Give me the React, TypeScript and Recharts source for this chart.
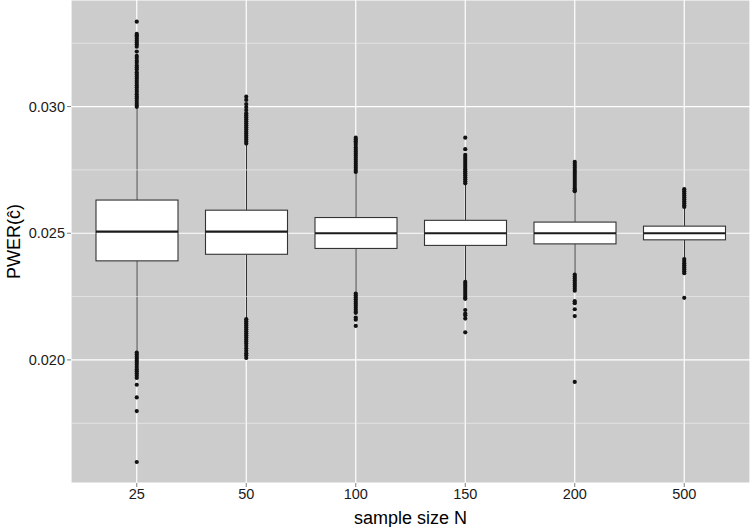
import React from "react";
import {
  ComposedChart,
  Bar,
  Scatter,
  XAxis,
  YAxis,
  CartesianGrid,
  ReferenceLine,
} from "recharts";

// Sample sizes on the x axis
const sampleSizes = ["25", "50", "100", "150", "200", "500"];

// Five-number summaries of PWER(ĉ) per sample size
const lowerWhisker = [0.02032, 0.02164, 0.02266, 0.02311, 0.02341, 0.02402];
const lowerQuartile = [0.02391, 0.02417, 0.0244, 0.02452, 0.02458, 0.02474];
const medians = [0.02506, 0.02506, 0.025, 0.025, 0.025, 0.025];
const upperQuartile = [0.02631, 0.02591, 0.02562, 0.02551, 0.02544, 0.02528];
const upperWhisker = [0.02996, 0.0285, 0.02736, 0.02692, 0.02662, 0.026];

// Outlying simulation results per sample size
const outliers25 = [
  0.03335, 0.03287, 0.03281, 0.03276, 0.03268, 0.0326, 0.03252, 0.03245, 0.03236,
  0.03217, 0.032, 0.03192, 0.03181, 0.03173, 0.03162, 0.03154, 0.03146, 0.03135,
  0.03127, 0.03118, 0.0311, 0.03101, 0.03093, 0.03084, 0.03075, 0.03066, 0.03058,
  0.03049, 0.0304, 0.03032, 0.03023, 0.03014, 0.03006, 0.02999,
  0.02029, 0.02021, 0.02013, 0.02005, 0.01997, 0.01989, 0.01981, 0.01972, 0.01963,
  0.01955, 0.01946, 0.01938, 0.01929, 0.01902, 0.01852, 0.01798, 0.01597,
];
const outliers50 = [
  0.03039, 0.03026, 0.0301, 0.02998, 0.02986, 0.02974, 0.02966, 0.02958, 0.0295,
  0.02942, 0.02934, 0.02926, 0.02918, 0.0291, 0.02902, 0.02894, 0.02886, 0.02878,
  0.0287, 0.02862, 0.02854,
  0.02161, 0.02153, 0.02145, 0.02137, 0.02129, 0.02121, 0.02113, 0.02105, 0.02097,
  0.02089, 0.02081, 0.02073, 0.02065, 0.02056, 0.02046, 0.02036, 0.02026, 0.02018,
  0.02008,
];
const outliers100 = [
  0.02877, 0.0287, 0.02863, 0.02856, 0.02848, 0.02838, 0.0283, 0.02822, 0.02814,
  0.02806, 0.02798, 0.0279, 0.02782, 0.02774, 0.02766, 0.02758, 0.0275, 0.02742,
  0.02262, 0.02254, 0.02246, 0.02238, 0.0223, 0.02222, 0.02214, 0.02206, 0.02198,
  0.0219, 0.02186, 0.02167, 0.02159, 0.02134,
];
const outliers150 = [
  0.02877, 0.02832, 0.02809, 0.02801, 0.02793, 0.02785, 0.02777, 0.02769, 0.02761,
  0.02753, 0.02745, 0.02737, 0.02729, 0.02721, 0.02713, 0.02705, 0.02697,
  0.02308, 0.023, 0.02292, 0.02284, 0.02276, 0.02268, 0.0226, 0.02252, 0.02244,
  0.02241, 0.02197, 0.02183, 0.02176, 0.02163, 0.02109,
];
const outliers200 = [
  0.02782, 0.02774, 0.02766, 0.02758, 0.0275, 0.02742, 0.02734, 0.02726, 0.02718,
  0.0271, 0.02702, 0.02694, 0.02686, 0.02678, 0.0267, 0.02666,
  0.02337, 0.02329, 0.02321, 0.02313, 0.02305, 0.02297, 0.02289, 0.02281, 0.02273,
  0.02232, 0.02224, 0.022, 0.02173, 0.01913,
];
const outliers500 = [
  0.02674, 0.02666, 0.02658, 0.0265, 0.02642, 0.02634, 0.02626, 0.02618, 0.0261,
  0.02604,
  0.02398, 0.0239, 0.02382, 0.02374, 0.02366, 0.02358, 0.0235, 0.02342, 0.02245,
];
const outlierGroups = [
  outliers25,
  outliers50,
  outliers100,
  outliers150,
  outliers200,
  outliers500,
];

// Axis settings
const yTicks = [0.02, 0.025, 0.03];
const yMinorLines = [0.0175, 0.0225, 0.0275, 0.0325];
const yDomain: [number, number] = [0.015142, 0.034206];

const boxData = sampleSizes.map((n, i) => ({
  n,
  box: [lowerQuartile[i], upperQuartile[i]],
  lo: lowerWhisker[i],
  q1: lowerQuartile[i],
  med: medians[i],
  q3: upperQuartile[i],
  hi: upperWhisker[i],
}));

const outlierData = sampleSizes.flatMap((n, i) =>
  outlierGroups[i].map((v) => ({ n, v }))
);

const FONT = "'Liberation Sans', Arial, Helvetica, sans-serif";
const INK = "#333333";
const TICK_TEXT = "#1a1a1a";

// Draws a box with whiskers and median; vertical positions are derived
// from the pixel extent the Bar gives for the [q1, q3] range.
const BoxShape = (props: any) => {
  const { x, y, width, height, index } = props;
  const d = props.payload && props.payload.q3 !== undefined ? props.payload : boxData[index];
  const top = Math.min(y, y + height);
  const h = Math.abs(height);
  const ppu = h / (d.q3 - d.q1);
  const cx = x + width / 2;
  const yOf = (v: number) => top + (d.q3 - v) * ppu;
  return (
    <g>
      <line x1={cx} x2={cx} y1={yOf(d.hi)} y2={top} stroke={INK} strokeWidth={1} />
      <line x1={cx} x2={cx} y1={top + h} y2={yOf(d.lo)} stroke={INK} strokeWidth={1} />
      <rect x={x} y={top} width={width} height={h} fill="#ffffff" stroke={INK} strokeWidth={1.1} />
      <line
        x1={x}
        x2={x + width}
        y1={yOf(d.med)}
        y2={yOf(d.med)}
        stroke="#1a1a1a"
        strokeWidth={2.2}
      />
    </g>
  );
};

const OutlierDot = (props: any) => {
  const { cx, cy } = props;
  if (cx == null || cy == null) return null;
  return <circle cx={cx} cy={cy} r={2.1} fill="#111111" />;
};

const XTick = (props: any) => {
  const { x, y, payload } = props;
  return (
    <text x={x} y={y} dy="0.71em" textAnchor="middle" fontFamily={FONT} fontSize={14.5} fill={TICK_TEXT}>
      {payload.value}
    </text>
  );
};

const YTick = (props: any) => {
  const { x, y, payload } = props;
  return (
    <text x={x} y={y} dy="0.355em" textAnchor="end" fontFamily={FONT} fontSize={14.5} fill={TICK_TEXT}>
      {Number(payload.value).toFixed(3)}
    </text>
  );
};

const YTitle = (props: any) => {
  const vb = props.viewBox || { x: 0, y: 0, width: 71, height: 483 };
  const cx = 20;
  const cy = vb.y + vb.height / 2;
  return (
    <text
      x={cx}
      y={cy}
      transform={`rotate(-90, ${cx}, ${cy})`}
      textAnchor="middle"
      fontFamily={FONT}
      fontSize={18}
      fill="#000000"
    >
      PWER(ĉ)
    </text>
  );
};

export default function App() {
  return (
    <div style={{ position: "absolute", left: 0, top: 0, width: 750, height: 527, background: "#ffffff" }}>
      <ComposedChart
        width={750}
        height={527}
        data={boxData}
        margin={{ top: 0, right: 0, bottom: 0, left: 0 }}
      >
        <CartesianGrid fill="#cccccc" stroke="#ffffff" strokeWidth={1.2} />
        {yMinorLines.map((v) => (
          <ReferenceLine key={v} y={v} stroke="#ededed" strokeWidth={0.7} />
        ))}
        <XAxis
          dataKey="n"
          type="category"
          allowDuplicatedCategory={false}
          padding={{ left: 11, right: 11 }}
          height={44}
          tickSize={4}
          tickMargin={2}
          axisLine={false}
          tickLine={{ stroke: "#7f7f7f" }}
          tick={<XTick />}
          label={{
            value: "sample size N",
            position: "insideBottom",
            offset: 3,
            fontSize: 18,
            fontFamily: FONT,
            fill: "#000000",
          }}
        />
        <YAxis
          type="number"
          domain={yDomain}
          allowDataOverflow
          ticks={yTicks}
          width={71}
          tickSize={4}
          tickMargin={2}
          axisLine={false}
          tickLine={{ stroke: "#7f7f7f" }}
          tick={<YTick />}
          label={<YTitle />}
        />
        <Bar dataKey="box" barSize={82} shape={<BoxShape />} isAnimationActive={false} />
        <Scatter data={outlierData} dataKey="v" shape={<OutlierDot />} isAnimationActive={false} />
      </ComposedChart>
    </div>
  );
}
